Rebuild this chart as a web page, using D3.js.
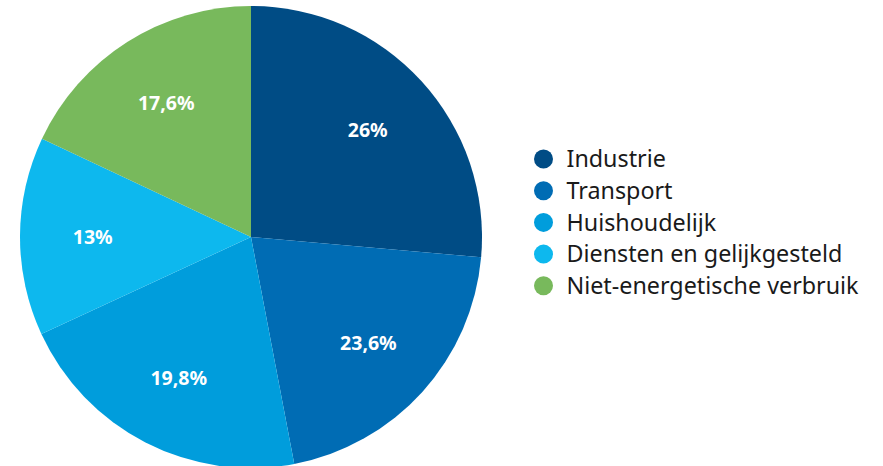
<!DOCTYPE html>
<html><head><meta charset="utf-8">
<script src="https://cdn.jsdelivr.net/npm/d3@7"></script>
<style>body{margin:0;background:#fff}svg{display:block}</style>
</head><body>
<svg id="c" width="883" height="466"></svg>
<script>
const categories = ["Industrie","Transport","Huishoudelijk","Diensten en gelijkgesteld","Niet-energetische verbruik"];
// slice sizes as drawn in the picture (angles), labels as printed
const values = [26.4, 20.6, 21.1, 13.9, 18.0];
const labels = ["26%","23,6%","19,8%","13%","17,6%"];
const colors = ["#004c85","#006cb4","#009ddc","#0db8ee","#78b95c"];

const svg = d3.select("#c");
const cx = 251, cy = 237, r = 231;
const data = categories.map((c,i)=>({c, v:values[i], l:labels[i], col:colors[i]}));
const pie = d3.pie().value(d=>d.v).sort(null);
const arc = d3.arc().innerRadius(0).outerRadius(r);
const lab = d3.arc().innerRadius(r*0.685).outerRadius(r*0.685);
const g = svg.append("g").attr("transform",`translate(${cx},${cy})`);
const arcs = pie(data);
g.selectAll("path").data(arcs).join("path").attr("d",arc).attr("fill",d=>d.data.col);
g.selectAll("text").data(arcs).join("text")
  .attr("transform",d=>`translate(${lab.centroid(d)})`)
  .attr("text-anchor","middle").attr("dy","0.36em")
  .attr("fill","#fff").attr("font-family","'Noto Sans', sans-serif")
  .attr("font-weight","bold").attr("font-size",19.5)
  .text(d=>d.data.l);

const leg = svg.append("g").attr("transform","translate(543.5,159)");
const row = leg.selectAll("g").data(data).join("g").attr("transform",(d,i)=>`translate(0,${i*31.7})`);
row.append("circle").attr("r",9.5).attr("fill",d=>d.col);
row.append("text").attr("x",23).attr("dy","0.36em")
  .attr("font-family","'Noto Sans', sans-serif").attr("font-size",23.3).attr("fill","#1a1a1a")
  .text(d=>d.c);
</script>
</body></html>
